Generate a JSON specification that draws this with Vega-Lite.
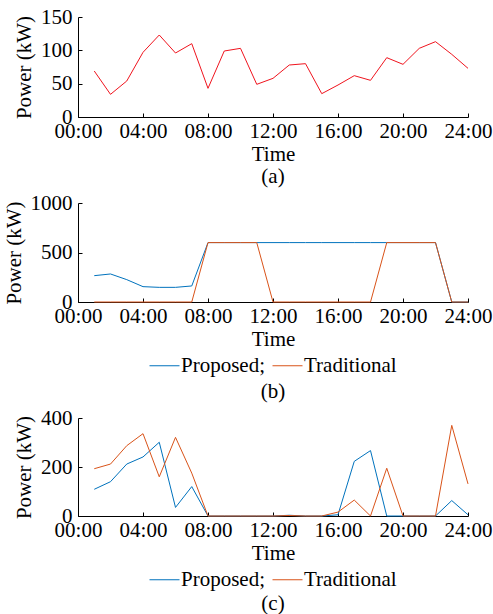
{
  "$schema": "https://vega.github.io/schema/vega-lite/v6.json",
  "padding": {"left": 3, "top": 6, "right": 2, "bottom": 0},
  "spacing": 5,
  "background": "white",
  "resolve": {"legend": {"color": "independent"}, "scale": {"color": "independent"}},
  "config": {
    "font": "Liberation Serif",
    "view": {"stroke": null},
    "axis": {
      "grid": false,
      "domainColor": "#000000",
      "tickColor": "#000000",
      "tickSize": -4,
      "labelFont": "Liberation Serif",
      "labelFontSize": 21,
      "labelColor": "#000000",
      "titleFont": "Liberation Serif",
      "titleFontSize": 21,
      "titleFontWeight": "normal",
      "titleColor": "#000000"
    },
    "legend": {
      "labelFont": "Liberation Serif",
      "labelFontSize": 21,
      "labelColor": "#000000",
      "layout": {"bottom": {"anchor": "middle"}}
    },
    "title": {
      "font": "Liberation Serif",
      "fontSize": 21,
      "fontWeight": "normal",
      "color": "#000000"
    }
  },
  "datasets": {
    "a": [
      {"h": 1, "p": 69}, {"h": 2, "p": 34}, {"h": 3, "p": 54}, {"h": 4, "p": 97},
      {"h": 5, "p": 123}, {"h": 6, "p": 96}, {"h": 7, "p": 110}, {"h": 8, "p": 43},
      {"h": 9, "p": 99}, {"h": 10, "p": 103}, {"h": 11, "p": 49}, {"h": 12, "p": 58},
      {"h": 13, "p": 78}, {"h": 14, "p": 80}, {"h": 15, "p": 35}, {"h": 16, "p": 48},
      {"h": 17, "p": 62}, {"h": 18, "p": 55}, {"h": 19, "p": 89}, {"h": 20, "p": 79},
      {"h": 21, "p": 103}, {"h": 22, "p": 113}, {"h": 23, "p": 94}, {"h": 24, "p": 73}
    ],
    "b": [
      {"h": 1, "s": "Proposed", "p": 266}, {"h": 2, "s": "Proposed", "p": 283}, {"h": 3, "s": "Proposed", "p": 226},
      {"h": 4, "s": "Proposed", "p": 155}, {"h": 5, "s": "Proposed", "p": 148}, {"h": 6, "s": "Proposed", "p": 148},
      {"h": 7, "s": "Proposed", "p": 162}, {"h": 8, "s": "Proposed", "p": 600}, {"h": 9, "s": "Proposed", "p": 600},
      {"h": 10, "s": "Proposed", "p": 600}, {"h": 11, "s": "Proposed", "p": 600}, {"h": 12, "s": "Proposed", "p": 600},
      {"h": 13, "s": "Proposed", "p": 600}, {"h": 14, "s": "Proposed", "p": 600}, {"h": 15, "s": "Proposed", "p": 600},
      {"h": 16, "s": "Proposed", "p": 600}, {"h": 17, "s": "Proposed", "p": 600}, {"h": 18, "s": "Proposed", "p": 600},
      {"h": 19, "s": "Proposed", "p": 600}, {"h": 20, "s": "Proposed", "p": 600}, {"h": 21, "s": "Proposed", "p": 600},
      {"h": 22, "s": "Proposed", "p": 600}, {"h": 23, "s": "Proposed", "p": 0}, {"h": 24, "s": "Proposed", "p": 0},
      {"h": 1, "s": "Traditional", "p": 0}, {"h": 2, "s": "Traditional", "p": 0}, {"h": 3, "s": "Traditional", "p": 0},
      {"h": 4, "s": "Traditional", "p": 0}, {"h": 5, "s": "Traditional", "p": 0}, {"h": 6, "s": "Traditional", "p": 0},
      {"h": 7, "s": "Traditional", "p": 0}, {"h": 8, "s": "Traditional", "p": 600}, {"h": 9, "s": "Traditional", "p": 600},
      {"h": 10, "s": "Traditional", "p": 600}, {"h": 11, "s": "Traditional", "p": 600}, {"h": 12, "s": "Traditional", "p": 0},
      {"h": 13, "s": "Traditional", "p": 0}, {"h": 14, "s": "Traditional", "p": 0}, {"h": 15, "s": "Traditional", "p": 0},
      {"h": 16, "s": "Traditional", "p": 0}, {"h": 17, "s": "Traditional", "p": 0}, {"h": 18, "s": "Traditional", "p": 0},
      {"h": 19, "s": "Traditional", "p": 600}, {"h": 20, "s": "Traditional", "p": 600}, {"h": 21, "s": "Traditional", "p": 600},
      {"h": 22, "s": "Traditional", "p": 600}, {"h": 23, "s": "Traditional", "p": 0}, {"h": 24, "s": "Traditional", "p": 0}
    ],
    "c": [
      {"h": 1, "s": "Proposed", "p": 109}, {"h": 2, "s": "Proposed", "p": 140}, {"h": 3, "s": "Proposed", "p": 212},
      {"h": 4, "s": "Proposed", "p": 241}, {"h": 5, "s": "Proposed", "p": 301}, {"h": 6, "s": "Proposed", "p": 35},
      {"h": 7, "s": "Proposed", "p": 120}, {"h": 8, "s": "Proposed", "p": 0}, {"h": 9, "s": "Proposed", "p": 0},
      {"h": 10, "s": "Proposed", "p": 0}, {"h": 11, "s": "Proposed", "p": 0}, {"h": 12, "s": "Proposed", "p": 0},
      {"h": 13, "s": "Proposed", "p": 3}, {"h": 14, "s": "Proposed", "p": 0}, {"h": 15, "s": "Proposed", "p": 0},
      {"h": 16, "s": "Proposed", "p": 5}, {"h": 17, "s": "Proposed", "p": 223}, {"h": 18, "s": "Proposed", "p": 267},
      {"h": 19, "s": "Proposed", "p": 0}, {"h": 20, "s": "Proposed", "p": 0}, {"h": 21, "s": "Proposed", "p": 0},
      {"h": 22, "s": "Proposed", "p": 0}, {"h": 23, "s": "Proposed", "p": 63}, {"h": 24, "s": "Proposed", "p": 5},
      {"h": 1, "s": "Traditional", "p": 193}, {"h": 2, "s": "Traditional", "p": 212}, {"h": 3, "s": "Traditional", "p": 287},
      {"h": 4, "s": "Traditional", "p": 336}, {"h": 5, "s": "Traditional", "p": 160}, {"h": 6, "s": "Traditional", "p": 321},
      {"h": 7, "s": "Traditional", "p": 175}, {"h": 8, "s": "Traditional", "p": 0}, {"h": 9, "s": "Traditional", "p": 0},
      {"h": 10, "s": "Traditional", "p": 0}, {"h": 11, "s": "Traditional", "p": 0}, {"h": 12, "s": "Traditional", "p": 0},
      {"h": 13, "s": "Traditional", "p": 2}, {"h": 14, "s": "Traditional", "p": 0}, {"h": 15, "s": "Traditional", "p": 0},
      {"h": 16, "s": "Traditional", "p": 16}, {"h": 17, "s": "Traditional", "p": 65}, {"h": 18, "s": "Traditional", "p": 0},
      {"h": 19, "s": "Traditional", "p": 195}, {"h": 20, "s": "Traditional", "p": 0}, {"h": 21, "s": "Traditional", "p": 0},
      {"h": 22, "s": "Traditional", "p": 0}, {"h": 23, "s": "Traditional", "p": 370}, {"h": 24, "s": "Traditional", "p": 131}
    ]
  },
  "vconcat": [
    {
      "width": 390,
      "height": 100,
      "data": {"name": "a"},
      "title": {"text": "(a)", "orient": "bottom", "offset": 2},
      "mark": {"type": "line", "color": "#f0141e", "strokeWidth": 1},
      "encoding": {
        "x": {"field": "h", "type": "quantitative", "scale": {"domain": [0, 24], "nice": false},
              "axis": {"values": [0, 4, 8, 12, 16, 20, 24], "labelExpr": "(datum.value < 10 ? '0' : '') + datum.value + ':00'", "title": "Time", "labelPadding": 7, "titlePadding": 2, "labelFlush": false}},
        "y": {"field": "p", "type": "quantitative", "scale": {"domain": [0, 150], "nice": false},
              "axis": {"values": [0, 50, 100, 150], "format": "d", "title": "Power (kW)", "labelPadding": 10, "titlePadding": 6}}
      }
    },
    {
      "width": 390,
      "height": 99,
      "data": {"name": "b"},
      "title": {"text": "(b)", "orient": "bottom", "offset": 5},
      "mark": {"type": "line", "strokeWidth": 1},
      "encoding": {
        "x": {"field": "h", "type": "quantitative", "scale": {"domain": [0, 24], "nice": false},
              "axis": {"values": [0, 4, 8, 12, 16, 20, 24], "labelExpr": "(datum.value < 10 ? '0' : '') + datum.value + ':00'", "title": "Time", "labelPadding": 7, "titlePadding": 2, "labelFlush": false}},
        "y": {"field": "p", "type": "quantitative", "scale": {"domain": [0, 1000], "nice": false},
              "axis": {"values": [0, 500, 1000], "format": "d", "title": "Power (kW)", "labelPadding": 10, "titlePadding": 6}},
        "color": {"field": "s", "type": "nominal",
                  "scale": {"domain": ["Proposed", "Traditional"], "range": ["#0072bd", "#d95319"]},
                  "legend": {"orient": "bottom", "direction": "horizontal", "title": null, "symbolType": "stroke", "symbolSize": 900, "symbolStrokeWidth": 1, "labelOffset": 1, "columnPadding": 5, "offset": 1,
                             "labelExpr": "datum.label == 'Proposed' ? 'Proposed;' : datum.label"}}
      }
    },
    {
      "width": 390,
      "height": 98,
      "data": {"name": "c"},
      "title": {"text": "(c)", "orient": "bottom", "offset": 3},
      "mark": {"type": "line", "strokeWidth": 1},
      "encoding": {
        "x": {"field": "h", "type": "quantitative", "scale": {"domain": [0, 24], "nice": false},
              "axis": {"values": [0, 4, 8, 12, 16, 20, 24], "labelExpr": "(datum.value < 10 ? '0' : '') + datum.value + ':00'", "title": "Time", "labelPadding": 7, "titlePadding": 2, "labelFlush": false}},
        "y": {"field": "p", "type": "quantitative", "scale": {"domain": [0, 400], "nice": false},
              "axis": {"values": [0, 200, 400], "format": "d", "title": "Power (kW)", "labelPadding": 10, "titlePadding": 6}},
        "color": {"field": "s", "type": "nominal",
                  "scale": {"domain": ["Proposed", "Traditional"], "range": ["#0072bd", "#d95319"]},
                  "legend": {"orient": "bottom", "direction": "horizontal", "title": null, "symbolType": "stroke", "symbolSize": 900, "symbolStrokeWidth": 1, "labelOffset": 1, "columnPadding": 5, "offset": 1,
                             "labelExpr": "datum.label == 'Proposed' ? 'Proposed;' : datum.label"}}
      }
    }
  ]
}
